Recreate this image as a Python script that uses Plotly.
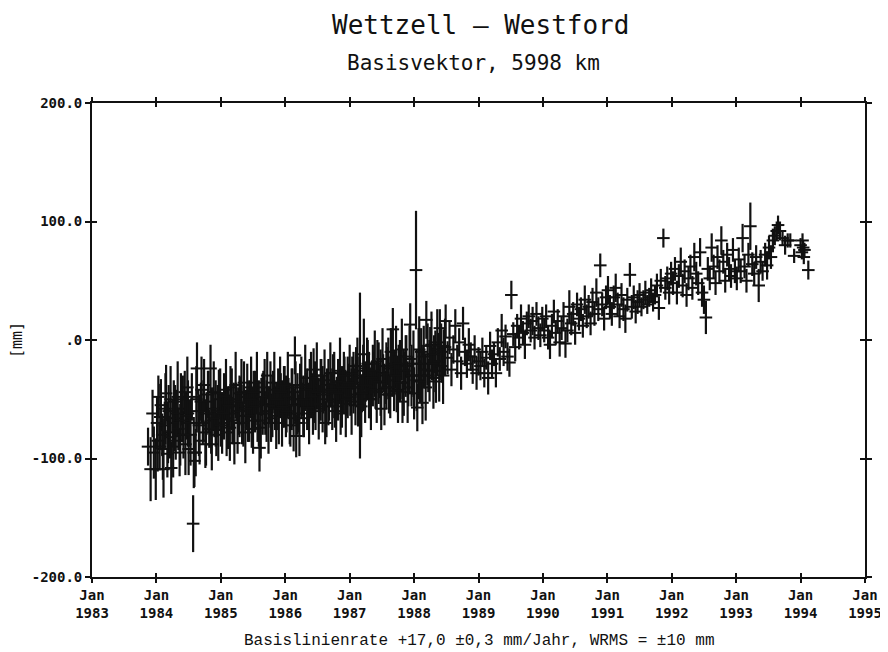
import plotly.graph_objects as go

# decimal year of each session
dates = [
1983.87,1983.91,1983.94,1983.96,1983.99,1984.01,1984.03,1984.05,1984.07,1984.09,1984.11,1984.13,1984.15,1984.17,1984.19,1984.21,1984.23,1984.25,1984.27,1984.30,
1984.32,1984.34,1984.36,1984.38,1984.40,1984.42,1984.44,1984.46,1984.48,1984.50,1984.52,1984.55,1984.57,1984.59,1984.61,1984.63,1984.65,1984.67,1984.69,1984.72,
1984.74,1984.76,1984.78,1984.80,1984.82,1984.84,1984.86,1984.88,1984.90,1984.93,1984.95,1984.97,1985.00,
1985.03,1985.06,1985.09,1985.12,1985.15,1985.18,1985.21,1985.24,1985.27,1985.30,1985.33,1985.36,1985.39,1985.42,1985.45,1985.48,1985.51,1985.54,1985.57,1985.60,
1985.63,1985.66,1985.69,1985.72,1985.75,1985.78,1985.81,1985.84,1985.87,1985.90,1985.93,1985.96,1985.99,
1986.02,1986.05,1986.08,1986.11,1986.14,1986.15,1986.17,1986.20,1986.23,1986.26,1986.29,1986.32,1986.35,1986.38,1986.41,1986.44,1986.47,1986.50,1986.53,1986.56,
1986.59,1986.62,1986.65,1986.68,1986.71,1986.74,1986.77,1986.80,1986.83,1986.86,1986.89,1986.92,1986.95,1986.98,
1987.01,1987.04,1987.07,1987.10,1987.13,1987.16,1987.19,1987.22,1987.25,1987.28,1987.31,1987.34,1987.37,1987.40,1987.43,1987.46,1987.49,1987.52,1987.55,1987.58,
1987.61,1987.64,1987.67,1987.70,1987.73,1987.76,1987.79,1987.82,1987.85,1987.88,1987.91,1987.94,1987.97,
1988.00,1988.03,1988.05,1988.07,1988.09,1988.11,1988.13,1988.16,1988.19,1988.22,1988.25,1988.28,1988.31,1988.34,1988.37,1988.40,1988.43,1988.46,1988.49,1988.52,
1988.55,1988.58,1988.61,1988.64,1988.67,1988.70,1988.73,1988.76,1988.79,1988.82,1988.85,1988.88,1988.91,1988.94,1988.97,
1989.00,1989.03,1989.06,1989.09,1989.12,1989.15,1989.18,1989.21,1989.24,1989.27,1989.30,1989.33,1989.36,1989.39,1989.42,1989.45,1989.48,1989.51,1989.54,1989.57,
1989.60,1989.63,1989.66,1989.69,1989.72,1989.75,1989.78,1989.81,1989.84,1989.87,1989.90,1989.93,1989.96,1989.99,
1990.02,1990.05,1990.08,1990.11,1990.14,1990.17,1990.20,1990.23,1990.26,1990.29,1990.32,1990.35,1990.38,1990.41,1990.44,1990.47,1990.50,1990.53,1990.56,1990.59,
1990.62,1990.65,1990.68,1990.71,1990.74,1990.77,1990.80,1990.83,1990.86,1990.89,1990.92,1990.95,1990.98,
1991.01,1991.04,1991.07,1991.10,1991.13,1991.16,1991.19,1991.22,1991.25,1991.28,1991.31,1991.35,1991.38,1991.41,1991.44,1991.47,1991.50,1991.53,1991.56,1991.59,
1991.62,1991.65,1991.68,1991.71,1991.74,1991.77,1991.80,1991.83,1991.87,1991.90,1991.93,1991.96,1991.99,
1992.02,1992.05,1992.08,1992.11,1992.14,1992.17,1992.20,1992.23,1992.26,1992.29,1992.32,1992.35,1992.38,1992.41,1992.44,1992.47,1992.50,1992.53,1992.56,1992.59,
1992.62,1992.65,1992.68,1992.71,1992.74,1992.77,1992.80,1992.83,1992.86,1992.89,1992.92,1992.95,1992.98,
1993.01,1993.04,1993.07,1993.10,1993.13,1993.16,1993.19,1993.22,1993.25,1993.28,1993.31,1993.35,1993.38,1993.41,1993.45,1993.48,1993.51,1993.54,1993.57,1993.60,
1993.63,1993.65,1993.68,1993.72,1993.76,1993.80,1993.84,1993.90,1994.00,1994.02,1994.03,1994.04,1994.05,1994.06,1994.12,
]

# baseline length residual [mm]
values_mm = [
-90,-109,-62,-95,-109,-70,-48,-90,-55,-80,-109,-72,-45,-96,-60,-82,-108,-70,-52,-85,
-62,-75,-95,-50,-68,-80,-44,-64,-40,-92,-70,-48,-155,-102,-95,-24,-60,-85,-52,-70,
-38,-88,-62,-46,-75,-24,-88,-58,-66,-80,-60,-45,-72,
-62,-48,-78,-55,-40,-68,-87,-52,-60,-45,-70,-36,-58,-64,-50,-75,-44,-56,-68,-91,
-48,-40,-62,-30,-55,-66,-42,-58,-50,-70,-44,-56,-38,
-60,-48,-72,-40,-55,-13,-81,-62,-38,-50,-66,-42,-57,-32,-48,-25,-60,-44,-54,-30,
-46,-70,-38,-52,-42,-28,-56,-45,-35,-62,-40,-30,-50,-36,
-48,-28,-40,-22,-55,-30,-45,-12,-38,-20,-50,-32,-26,-42,-18,-35,-58,-28,-40,-22,
-46,-10,9,-30,-43,-20,-36,-52,-26,-14,-40,13,-30,
-45,59,-57,-20,-35,-10,-53,-25,17,-30,-5,-20,-12,-35,-8,10,-22,-5,16,-15,
2,-25,-8,12,-18,-2,-28,14,-10,-20,-4,-14,-25,-8,-28,
-18,-22,-10,-28,-15,-32,-5,-20,-12,-28,-2,-16,8,-10,3,-14,-19,38,5,-6,
12,2,18,6,-4,14,20,8,16,2,22,10,4,18,
8,20,2,-4,12,24,6,16,-2,10,20,-3,8,28,14,22,6,30,18,26,
12,34,20,28,14,32,22,40,26,63,30,18,36,
42,28,22,36,44,30,20,38,26,18,34,55,28,36,24,32,38,28,34,40,
30,36,42,32,38,46,27,50,86,44,52,40,56,
48,60,40,54,66,46,58,38,52,62,44,70,56,48,74,40,34,19,60,52,
78,62,48,70,58,84,66,50,72,60,54,76,58,
52,68,58,86,62,50,72,96,64,56,70,46,66,58,72,63,78,70,84,88,
92,97,92,86,80,84,84,71,80,74,84,78,70,76,59,
]

# one-sigma error [mm]
errors_mm = [
16,27,20,22,26,22,18,20,22,18,24,20,24,20,22,18,22,20,18,16,
20,18,20,22,18,20,18,20,26,22,20,20,24,22,20,22,18,20,16,18,
22,20,18,20,16,20,22,18,16,18,22,20,18,
16,18,20,16,18,20,18,16,20,14,18,18,16,22,14,16,18,16,18,20,
16,14,18,20,16,20,16,18,14,18,16,18,16,
18,16,18,16,14,16,18,16,18,14,16,14,16,16,14,18,16,14,16,14,
16,18,14,16,14,16,18,14,16,18,14,16,14,16,
16,14,16,16,18,70,16,30,14,20,16,14,16,16,18,14,18,16,14,16,
16,20,18,16,18,16,14,18,16,18,16,18,16,
22,50,20,30,18,20,18,16,16,14,16,14,16,18,14,16,14,14,14,14,
14,14,12,14,14,12,14,14,12,12,14,12,12,12,14,
12,12,12,12,10,14,12,12,10,12,12,10,14,12,10,12,12,12,10,12,
10,10,12,10,12,10,10,10,12,10,10,10,10,10,
10,10,10,12,10,10,10,10,12,10,12,12,10,14,10,10,10,10,10,10,
10,12,10,10,10,12,10,12,10,10,10,10,10,
12,10,10,10,12,10,10,10,10,12,10,10,10,10,10,10,10,8,8,10,
8,8,10,8,8,10,10,10,8,10,10,10,10,
10,10,10,10,12,10,10,10,10,10,10,12,10,10,12,12,12,14,10,10,
12,10,10,10,10,12,10,10,10,10,10,10,10,
10,10,10,12,10,10,10,20,10,10,10,14,10,8,10,12,10,10,10,8,
8,8,8,6,8,6,6,6,6,6,6,6,6,6,8,
]

# additional (interleaved) sessions of the dense 1984-1988 period
dates_b = [
1984.02,1984.06,1984.10,1984.14,1984.18,1984.22,1984.26,1984.29,1984.33,1984.37,1984.41,1984.45,1984.49,1984.53,1984.58,1984.62,1984.66,1984.70,1984.73,1984.77,
1984.81,1984.85,1984.89,1984.92,1984.96,1984.99,1985.02,1985.05,1985.08,1985.11,1985.14,1985.17,1985.20,1985.23,1985.26,1985.29,1985.32,1985.35,1985.38,1985.41,
1985.44,1985.47,1985.50,1985.53,1985.56,1985.59,1985.62,1985.65,1985.68,1985.71,1985.74,1985.77,1985.80,1985.83,1985.86,1985.89,1985.92,1985.95,1985.98,1986.01,
1986.04,1986.07,1986.10,1986.13,1986.16,1986.19,1986.22,1986.25,1986.28,1986.31,1986.34,1986.37,1986.40,1986.43,1986.46,1986.49,1986.52,1986.55,1986.58,1986.61,
1986.64,1986.67,1986.70,1986.73,1986.76,1986.79,1986.82,1986.85,1986.88,1986.91,1986.94,1986.97,1987.00,1987.03,1987.06,1987.09,1987.12,1987.15,1987.18,1987.21,
1987.24,1987.27,1987.30,1987.33,1987.36,1987.39,1987.42,1987.45,1987.48,1987.51,1987.54,1987.57,1987.60,1987.63,1987.66,1987.69,1987.72,1987.75,1987.78,1987.81,
1987.84,1987.87,1987.90,1987.93,1987.96,1987.99,1988.04,1988.08,1988.12,1988.15,1988.18,1988.21,1988.24,1988.27,1988.30,1988.33,1988.36,1988.39,1988.42,1988.45,
1988.48,
]
values_b = [
-85,-65,-92,-58,-78,-50,-90,-66,-48,-80,-58,-88,-62,-80,-95,-50,-72,-42,-60,-78,
-52,-68,-44,-62,-76,-50,-70,-56,-42,-66,-74,-50,-62,-38,-70,-56,-44,-64,-78,-48,
-60,-40,-68,-52,-36,-62,-74,-54,-44,-60,-70,-46,-56,-36,-64,-50,-40,-62,-48,-56,
-38,-62,-50,-66,-44,-54,-70,-40,-56,-32,-50,-62,-38,-54,-44,-30,-58,-42,-50,-34,
-56,-44,-28,-50,-38,-60,-42,-26,-48,-36,-54,-40,-30,-52,-36,-46,-26,-40,-56,-32,
-44,-24,-38,-50,-30,-20,-44,-28,-36,-16,-46,-30,-24,-40,-20,-34,-14,-42,-26,-8,
-36,-22,-44,-16,-30,-20,-34,-8,-30,-14,-40,-12,-26,-4,-32,-18,-2,-26,-10,-30,
-6,
]
errors_b = [
26,28,26,30,26,28,26,28,30,26,28,26,28,26,30,28,26,28,26,28,
26,28,26,28,26,26,26,28,26,26,28,26,26,28,26,26,28,26,26,28,
26,26,28,26,26,28,26,26,28,26,26,28,26,26,28,26,26,28,26,26,
28,26,26,28,26,26,28,26,26,28,26,26,28,26,26,28,26,26,28,26,
26,28,26,26,28,26,26,28,26,26,28,26,26,28,26,26,28,26,26,28,
26,26,28,26,26,28,26,26,28,26,26,28,26,26,28,26,26,28,26,26,
28,26,26,28,26,28,26,28,26,26,28,26,26,28,26,26,28,26,24,24,
24,
]

assert len(dates) == len(values_mm) == len(errors_mm), (len(dates), len(values_mm), len(errors_mm))
assert len(dates_b) == len(values_b) == len(errors_b), (len(dates_b), len(values_b), len(errors_b))

year_ticks = list(range(1983, 1996))
year_labels = ["Jan<br>%d" % y for y in year_ticks]
y_ticks = [-200, -100, 0, 100, 200]
y_labels = ["-200.0", "-100.0", ".0", "100.0", "200.0"]

ink = "#111111"
tickfont = dict(family="DejaVu Sans Mono", size=14, color=ink, weight="bold")

fig = go.Figure()
for xs, ys, es in ((dates_b, values_b, errors_b), (dates, values_mm, errors_mm)):
    fig.add_trace(go.Scatter(
        x=xs, y=ys, mode="markers",
        marker=dict(symbol="line-ew", size=9, line=dict(width=2, color=ink), color=ink),
        error_y=dict(type="data", array=es, visible=True, color=ink, thickness=2.2, width=0),
        showlegend=False,
    ))
# invisible trace on the overlay axes so they are drawn
fig.add_trace(go.Scatter(x=[1983, 1995], y=[-200, 200], xaxis="x2", yaxis="y2",
                         mode="markers", marker=dict(opacity=0), showlegend=False,
                         hoverinfo="skip"))

# the page body adds an 8 px offset, so the figure is 8 px smaller on each axis
fig.update_layout(
    width=880, height=644,
    margin=dict(l=84, r=23, t=95, b=75),
    paper_bgcolor="white", plot_bgcolor="white",
    xaxis=dict(range=[1983, 1995], tickvals=year_ticks, ticktext=year_labels, automargin=False,
               showgrid=False, zeroline=False, showline=True, linecolor=ink, linewidth=1.8,
               mirror="ticks", ticks="outside", ticklen=4, tickwidth=1.5, tickcolor=ink,
               tickfont=tickfont),
    yaxis=dict(range=[-200, 200], tickvals=y_ticks, ticktext=y_labels, automargin=False,
               showgrid=False, zeroline=False, showline=True, linecolor=ink, linewidth=1.8,
               mirror="ticks", ticks="outside", ticklen=5, tickwidth=1.5, tickcolor=ink,
               tickfont=tickfont,
               title=dict(text="[mm]", font=dict(family="DejaVu Sans Mono", size=15, color=ink), standoff=10)),
    xaxis2=dict(range=[1983, 1995], overlaying="x", tickvals=year_ticks[1:-1], showticklabels=False,
                ticks="inside", ticklen=4, tickwidth=1.5, tickcolor=ink, mirror="ticks", automargin=False,
                showline=False, showgrid=False, zeroline=False),
    yaxis2=dict(range=[-200, 200], overlaying="y", tickvals=[-100, 0, 100], showticklabels=False,
                ticks="inside", ticklen=5, tickwidth=1.5, tickcolor=ink, mirror="ticks", automargin=False,
                showline=False, showgrid=False, zeroline=False),
)

fig.add_annotation(text="Wettzell – Westford", xref="paper", yref="paper", x=0.503, y=1.0,
                   yanchor="middle", yshift=78, showarrow=False,
                   font=dict(family="DejaVu Sans Mono", size=26, color=ink))
fig.add_annotation(text="Basisvektor, 5998 km", xref="paper", yref="paper", x=0.494, y=1.0,
                   yanchor="middle", yshift=40, showarrow=False,
                   font=dict(family="DejaVu Sans Mono", size=21, color=ink))
fig.add_annotation(text="Basislinienrate +17,0 ±0,3 mm/Jahr, WRMS = ±10 mm", xref="paper", yref="paper",
                   x=0.5, y=0.0, yanchor="middle", yshift=-64, showarrow=False,
                   font=dict(family="Liberation Mono", size=16, color=ink))

fig.write_html("out.html")
